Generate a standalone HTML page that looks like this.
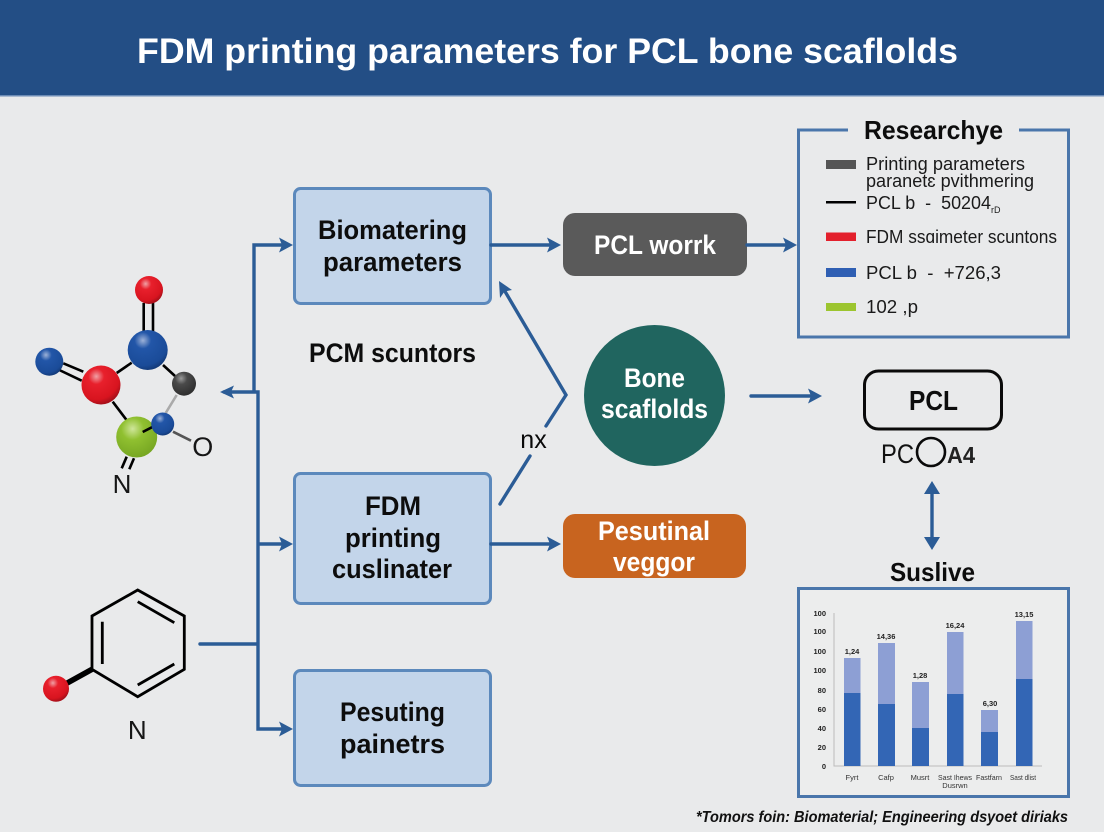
<!DOCTYPE html>
<html>
<head>
<meta charset="utf-8">
<style>
html,body{margin:0;padding:0;background:#e9eaeb;}
svg{display:block;}
text{font-family:"Liberation Sans",sans-serif;}
.b{font-weight:700;fill:#0d0d0d;}
.w{font-weight:700;fill:#fff;}
.r{fill:#161616;}
.c{stroke:#2b5c96;stroke-width:3.4;fill:none;stroke-linecap:round;stroke-linejoin:miter;}
.h{fill:#2b5c96;}
.bx{fill:#c3d5ea;stroke:#5c89bc;stroke-width:3;}
.bond{stroke:#000;stroke-width:2.6;fill:none;}
.t{font-size:7.5px;fill:#222;text-anchor:end;font-weight:700;}
.v{font-size:7.5px;fill:#222;text-anchor:middle;font-weight:700;}
.x{font-size:7.5px;fill:#333;text-anchor:middle;}
</style>
</head>
<body>
<svg width="1104" height="832" viewBox="0 0 1104 832" xmlns="http://www.w3.org/2000/svg">
<defs>
<radialGradient id="red" cx="38%" cy="28%" r="72%"><stop offset="0" stop-color="#f0a0a5"/><stop offset=".28" stop-color="#e8202c"/><stop offset=".82" stop-color="#d8141f"/><stop offset="1" stop-color="#a8101a"/></radialGradient>
<radialGradient id="blue" cx="38%" cy="26%" r="74%"><stop offset="0" stop-color="#9db2d8"/><stop offset=".28" stop-color="#2256a8"/><stop offset=".85" stop-color="#1a4b98"/><stop offset="1" stop-color="#143c7c"/></radialGradient>
<radialGradient id="gray" cx="38%" cy="28%" r="72%"><stop offset="0" stop-color="#9a9a9a"/><stop offset=".35" stop-color="#4a4a4a"/><stop offset="1" stop-color="#2f2f2f"/></radialGradient>
<radialGradient id="green" cx="40%" cy="30%" r="72%"><stop offset="0" stop-color="#cfe69a"/><stop offset=".38" stop-color="#90c030"/><stop offset="1" stop-color="#76a622"/></radialGradient>
</defs>

<rect width="1104" height="832" fill="#e9eaeb"/>
<rect width="1104" height="95" fill="#234e85"/>
<rect y="95" width="1104" height="1.5" fill="#6b8bb5"/>
<text x="137" y="63" class="w" font-size="35" textLength="821" lengthAdjust="spacingAndGlyphs">FDM printing parameters for PCL bone scaflolds</text>

<!-- Molecule top -->
<g class="bond">
<path d="M143.7 303V333M153 303V333"/>
<path d="M63.3 363.3L83.3 371.7M59.3 370L81.7 380.7"/>
<path d="M116.7 373L131.7 362.7M163 365L175 376M112.7 401.7L128.3 422.3"/>
<path d="M126.7 456.7L121.7 468.3M134 458.3L129.3 469.3"/>
</g>
<path d="M176.7 395L165.7 413" stroke="#aaa" stroke-width="2.6"/>
<path d="M173 431.7L191 440.7" stroke="#555" stroke-width="2.6"/>
<circle cx="149" cy="290" r="14" fill="url(#red)"/>
<circle cx="147.7" cy="350" r="20" fill="url(#blue)"/>
<circle cx="101" cy="385" r="19.5" fill="url(#red)"/>
<circle cx="49.3" cy="361.7" r="14" fill="url(#blue)"/>
<circle cx="184" cy="383.7" r="12" fill="url(#gray)"/>
<circle cx="136.7" cy="437" r="20.5" fill="url(#green)"/>
<path d="M142.7 432L153 426.7" class="bond"/>
<circle cx="162.7" cy="424" r="11.5" fill="url(#blue)"/>
<text x="202.7" y="456" font-size="27" text-anchor="middle" class="r">O</text>
<text x="122" y="493" font-size="26" text-anchor="middle" class="r">N</text>

<!-- Hexagon molecule -->
<path d="M137.7 590L184.3 616V669.3L137.7 696.7L92 669.3V616Z" fill="none" stroke="#000" stroke-width="2.8" stroke-linejoin="miter"/>
<path d="M137.7 601.7L174.3 622.7M174.3 664L137.7 685M102.3 621.7V664" stroke="#000" stroke-width="2.8" fill="none"/>
<path d="M92 669.3L66.7 683.3" stroke="#000" stroke-width="5.5"/>
<circle cx="56" cy="688.7" r="13" fill="url(#red)"/>
<text x="137.3" y="739" font-size="26" text-anchor="middle" class="r">N</text>

<!-- Left trunk connectors -->
<path class="c" d="M284 245H254V392M224 392H258V729H284M258 544H284M200 644H258" stroke-linecap="butt"/>
<path class="h" d="M293 245L279 237.5L282 245L279 252.5Z"/>
<path class="h" d="M293 544L279 536.5L282 544L279 551.5Z"/>
<path class="h" d="M293 729L279 721.5L282 729L279 736.5Z"/>
<path class="h" d="M220 392L234 385.5L231 392L234 398.5Z"/>

<!-- Boxes -->
<rect x="294.5" y="188.5" width="196" height="115" rx="6" class="bx"/>
<rect x="294.5" y="473.5" width="196" height="130" rx="6" class="bx"/>
<rect x="294.5" y="670.5" width="196" height="115" rx="6" class="bx"/>

<text x="318" y="239" class="b" font-size="27" textLength="149" lengthAdjust="spacingAndGlyphs">Biomatering</text>
<text x="323" y="271" class="b" font-size="27" textLength="139" lengthAdjust="spacingAndGlyphs">parameters</text>
<text x="309" y="362" class="b" font-size="27" textLength="167" lengthAdjust="spacingAndGlyphs">PCM scuntors</text>
<text x="365" y="515" class="b" font-size="27" textLength="56" lengthAdjust="spacingAndGlyphs">FDM</text>
<text x="345" y="547" class="b" font-size="27" textLength="96" lengthAdjust="spacingAndGlyphs">printing</text>
<text x="332" y="578" class="b" font-size="27" textLength="120" lengthAdjust="spacingAndGlyphs">cuslinater</text>
<text x="340" y="721" class="b" font-size="27" textLength="105" lengthAdjust="spacingAndGlyphs">Pesuting</text>
<text x="340" y="753" class="b" font-size="27" textLength="105" lengthAdjust="spacingAndGlyphs">painetrs</text>

<!-- Middle nodes -->
<rect x="563" y="213" width="184" height="63" rx="12" fill="#5a5a5a"/>
<text x="594" y="254" class="w" font-size="27" textLength="122" lengthAdjust="spacingAndGlyphs">PCL worrk</text>
<circle cx="654.5" cy="395.5" r="70.5" fill="#20655f"/>
<text x="624" y="387" class="w" font-size="27" textLength="61" lengthAdjust="spacingAndGlyphs">Bone</text>
<text x="601" y="418" class="w" font-size="27" textLength="107" lengthAdjust="spacingAndGlyphs">scaflolds</text>
<rect x="563" y="514" width="183" height="64" rx="12" fill="#c8641f"/>
<text x="598" y="540" class="w" font-size="27" textLength="112" lengthAdjust="spacingAndGlyphs">Pesutinal</text>
<text x="613" y="571" class="w" font-size="27" textLength="82" lengthAdjust="spacingAndGlyphs">veggor</text>

<!-- Middle connectors -->
<path class="c" d="M491 245H552M747 245H790M491 544H553M751 396H813" stroke-linecap="butt"/>
<path class="h" d="M561 245L547 237.5L550 245L547 252.5Z"/>
<path class="h" d="M797 245L783 237.5L786 245L783 252.5Z"/>
<path class="h" d="M561 544L547 536.5L550 544L547 551.5Z"/>
<path class="h" d="M822 396L808 388.5L811 396L808 403.5Z"/>
<path class="c" d="M503 288L566 395L546 426M530 456L500 504"/>
<path class="h" d="M499 281L512 290L504.5 291.5L500 298Z"/>
<text x="533.5" y="448" font-size="25" text-anchor="middle" fill="#0a0a0a">nx</text>

<!-- Legend box -->
<path d="M848 130H798.5V337H1068.5V130H1019" fill="none" stroke="#4a76ab" stroke-width="3"/>
<text x="864" y="139" class="b" font-size="26" textLength="139" lengthAdjust="spacingAndGlyphs">Researchye</text>
<rect x="826" y="160" width="30" height="9" fill="#555"/>
<rect x="826" y="201" width="30" height="2.5" fill="#000"/>
<rect x="826" y="232.5" width="30" height="8.5" fill="#e3202c"/>
<rect x="826" y="268" width="30" height="9" fill="#2f5fb3"/>
<rect x="826" y="303" width="30" height="8" fill="#9cc52f"/>
<g font-size="18" fill="#1a1a1a">
<text x="866" y="170" textLength="159" lengthAdjust="spacingAndGlyphs">Printing parameters</text>
<text x="866" y="187" textLength="168" lengthAdjust="spacingAndGlyphs">paranetɛ pvithmering</text>
<text x="866" y="209" textLength="125" lengthAdjust="spacingAndGlyphs" xml:space="preserve">PCL b  -  50204</text>
<text x="991" y="213" font-size="9">rD</text>
<text x="866" y="243" textLength="191" lengthAdjust="spacingAndGlyphs">FDM ssɑimeter scuntons</text>
<text x="866" y="279" textLength="135" lengthAdjust="spacingAndGlyphs" xml:space="preserve">PCL b  -  +726,3</text>
<text x="866" y="313" textLength="52" lengthAdjust="spacingAndGlyphs">102 ,p</text>
</g>

<!-- PCL box -->
<rect x="864.5" y="371" width="137" height="58" rx="14" fill="none" stroke="#0a0a0a" stroke-width="3"/>
<text x="933.5" y="410" class="b" font-size="28" text-anchor="middle" textLength="49" lengthAdjust="spacingAndGlyphs">PCL</text>
<text x="881" y="463" font-size="27" fill="#111" textLength="33" lengthAdjust="spacingAndGlyphs">PC</text>
<circle cx="931" cy="452" r="14" fill="none" stroke="#0a0a0a" stroke-width="2.6"/>
<text x="947" y="463" font-size="23" fill="#222" font-weight="700" textLength="28" lengthAdjust="spacingAndGlyphs">A4</text>

<!-- Double arrow -->
<path d="M932 488V543" stroke="#2b5c96" stroke-width="3.4"/>
<path class="h" d="M932 481L940 494H924Z"/>
<path class="h" d="M932 550L940 537H924Z"/>
<text x="890" y="581" class="b" font-size="26" textLength="85" lengthAdjust="spacingAndGlyphs">Suslive</text>

<!-- Chart -->
<rect x="798.5" y="588.5" width="270" height="208" fill="#eceded" stroke="#4a76ab" stroke-width="3"/>
<path d="M834 613V766H1042" stroke="#bbb" stroke-width="1" fill="none"/>
<g>
<rect x="844" y="658" width="16.5" height="35" fill="#8d9fd4"/><rect x="844" y="693" width="16.5" height="73" fill="#3366b5"/>
<rect x="878" y="643" width="17" height="61" fill="#8d9fd4"/><rect x="878" y="704" width="17" height="62" fill="#3366b5"/>
<rect x="912" y="682" width="17" height="46" fill="#8d9fd4"/><rect x="912" y="728" width="17" height="38" fill="#3366b5"/>
<rect x="947" y="632" width="16.5" height="62" fill="#8d9fd4"/><rect x="947" y="694" width="16.5" height="72" fill="#3366b5"/>
<rect x="981" y="710" width="17" height="22" fill="#8d9fd4"/><rect x="981" y="732" width="17" height="34" fill="#3366b5"/>
<rect x="1016" y="621" width="16.5" height="58" fill="#8d9fd4"/><rect x="1016" y="679" width="16.5" height="87" fill="#3366b5"/>
</g>
<text class="t" x="826" y="616">100</text>
<text class="t" x="826" y="634">100</text>
<text class="t" x="826" y="654">100</text>
<text class="t" x="826" y="673">100</text>
<text class="t" x="826" y="693">80</text>
<text class="t" x="826" y="712">60</text>
<text class="t" x="826" y="731">40</text>
<text class="t" x="826" y="750">20</text>
<text class="t" x="826" y="769">0</text>
<text class="v" x="852" y="654">1,24</text>
<text class="v" x="886" y="639">14,36</text>
<text class="v" x="920" y="678">1,28</text>
<text class="v" x="955" y="628">16,24</text>
<text class="v" x="990" y="706">6,30</text>
<text class="v" x="1024" y="617">13,15</text>
<text class="x" x="852" y="780">Fyrt</text>
<text class="x" x="886" y="780">Cafp</text>
<text class="x" x="920" y="780">Musrt</text>
<text class="x" x="955" y="780" textLength="34" lengthAdjust="spacingAndGlyphs">Sast Ihews</text>
<text class="x" x="955" y="788">Dusrwn</text>
<text class="x" x="989" y="780" textLength="26" lengthAdjust="spacingAndGlyphs">Fastfarn</text>
<text class="x" x="1023" y="780" textLength="26" lengthAdjust="spacingAndGlyphs">Sast dlist</text>

<!-- Footnote -->
<text x="696" y="822" font-size="15.5" font-weight="700" font-style="italic" fill="#111" textLength="372" lengthAdjust="spacingAndGlyphs">*Tomors foin: Biomaterial; Engineering dsyoet diriaks</text>
</svg>
</body>
</html>
